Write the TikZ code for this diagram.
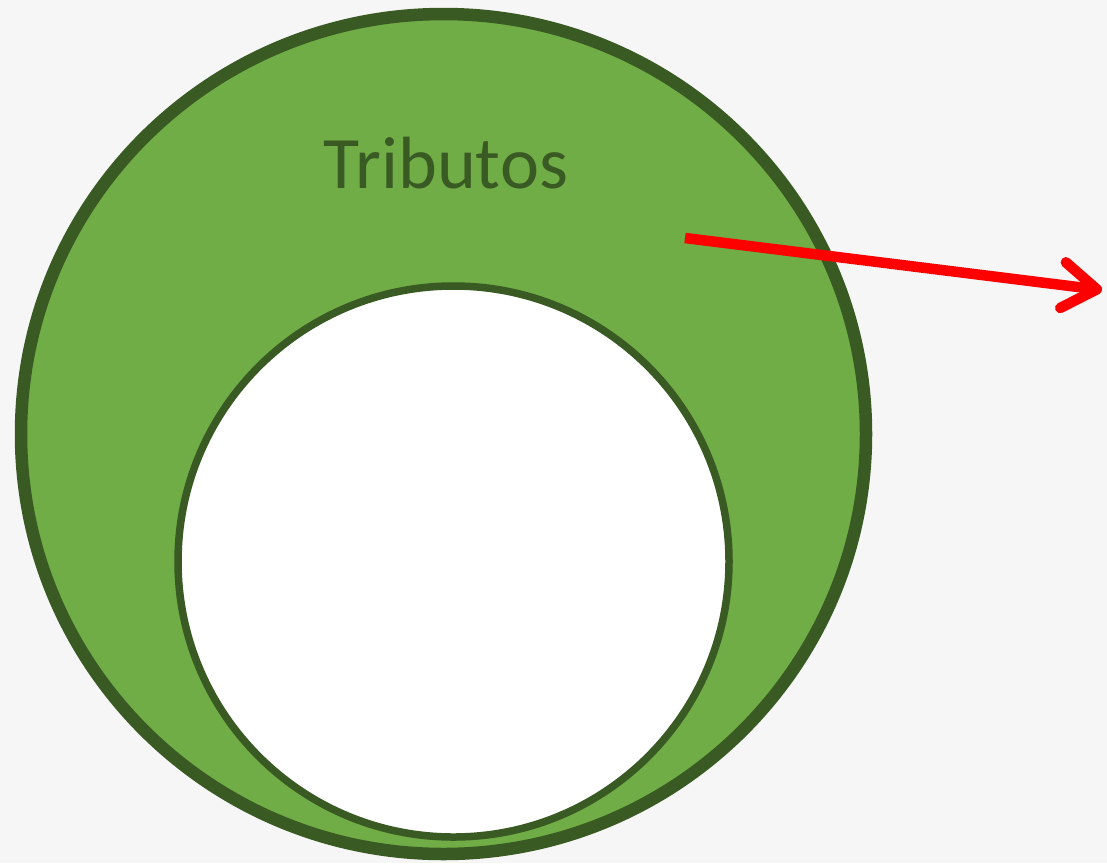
\documentclass[tikz,border=0pt]{standalone}
\usepackage{fontspec}
\setmainfont{Carlito}
\usepackage{tikz}
\usetikzlibrary{shapes.geometric, arrows.meta, positioning}
\usepackage{xcolor}
\definecolor{tribgreen}{HTML}{70AD47}
\definecolor{tribdark}{HTML}{3A5A24}
\definecolor{paper}{HTML}{F6F6F6}

\begin{document}
\begin{tikzpicture}[
  x=1pt, y=-1pt,
  outer/.style={ellipse, draw=tribdark, line width=12.5pt, fill=tribgreen, inner sep=0pt},
  inner/.style={circle, draw=tribdark, line width=7.5pt, fill=white, inner sep=0pt},
  label/.style={text=tribdark, font=\fontsize{74}{80}\selectfont},
  arr/.style={-{Straight Barb[length=34pt, width=46pt, round]}, line width=10.5pt, red}
]
  \fill[paper] (0,0) rectangle (1107,863);
  \useasboundingbox (0,0) rectangle (1107,863);

  \node[outer, minimum width=845pt, minimum height=840pt] (tributos) at (443.5,434) {};
  \node[inner, minimum size=551pt] (nucleo) at (453.5,561.5) {};
  \node[label, anchor=base] (titulo) at (446,188) {Tributos};

  % seta
  \coordinate (from) at (685,238);
  \coordinate (to) at (1102,290);
  \draw[arr] (from) -- (to);
\end{tikzpicture}
\end{document}
